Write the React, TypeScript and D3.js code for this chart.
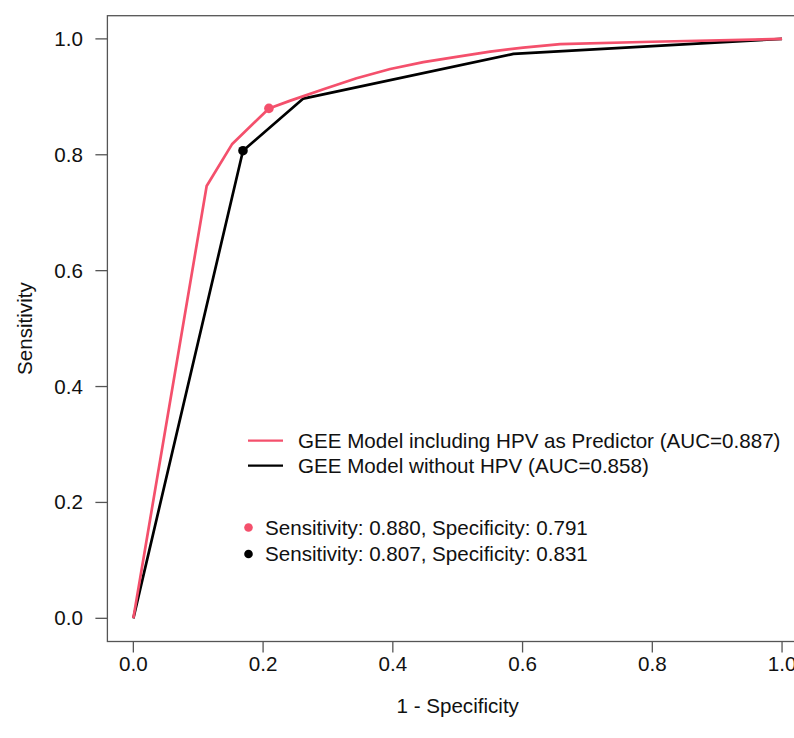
import React from "react";
import * as d3 from "d3";

// ROC points: [1 - specificity, sensitivity]
const withHpv: [number, number][] = [
  [0, 0], [0.113, 0.746], [0.152, 0.818], [0.209, 0.880], [0.241, 0.893],
  [0.293, 0.913], [0.344, 0.932], [0.396, 0.948], [0.447, 0.960], [0.498, 0.969],
  [0.550, 0.978], [0.601, 0.985], [0.658, 0.991], [0.80, 0.995], [1, 1],
];
const withoutHpv: [number, number][] = [
  [0, 0], [0.169, 0.807], [0.262, 0.897], [0.586, 0.974], [1, 1],
];
// best cut-off points
const cutPoints = [
  { sens: 0.880, spec: 0.791 },
  { sens: 0.807, spec: 0.831 },
];
const seriesNames = [
  "GEE Model including HPV as Predictor (AUC=0.887)",
  "GEE Model without HPV (AUC=0.858)",
];
const colors = ["#F4506C", "#000000"];
const ticks = [0, 0.2, 0.4, 0.6, 0.8, 1.0];

const W = 794;
const H = 738;
const FONT = "'Liberation Sans', Arial, sans-serif";
const FS = 20.6;

const App = () => {
  const x = d3.scaleLinear().domain([-0.04, 1.04]).range([107.4, 808]);
  const y = d3.scaleLinear().domain([-0.04, 1.04]).range([641.5, 15.7]);
  const line = d3
    .line<[number, number]>()
    .x(d => x(d[0]))
    .y(d => y(d[1]));
  const fmt = d3.format(".1f");

  return (
    <svg
      width={W}
      height={H}
      style={{ position: "absolute", left: 0, top: 0, background: "#fff" }}
      fontFamily={FONT}
    >
      {/* plot box */}
      <rect
        x={x(-0.04)}
        y={y(1.04)}
        width={x(1.04) - x(-0.04)}
        height={y(-0.04) - y(1.04)}
        fill="none"
        stroke="#555"
        strokeWidth={1.3}
      />

      {/* x axis */}
      {ticks.map(t => (
        <g key={"x" + t}>
          <line x1={x(t)} x2={x(t)} y1={y(-0.04)} y2={y(-0.04) + 11} stroke="#555" strokeWidth={1.3} />
          <text x={x(t)} y={671} textAnchor="middle" fontSize={FS} fill="#111">
            {fmt(t)}
          </text>
        </g>
      ))}
      <text x={(x(-0.04) + x(1.04)) / 2} y={713} textAnchor="middle" fontSize={FS} fill="#111">
        1 - Specificity
      </text>

      {/* y axis */}
      {ticks.map(t => (
        <g key={"y" + t}>
          <line x1={x(-0.04) - 12} x2={x(-0.04)} y1={y(t)} y2={y(t)} stroke="#555" strokeWidth={1.3} />
          <text x={83} y={y(t) + 7} textAnchor="end" fontSize={FS} fill="#111">
            {fmt(t)}
          </text>
        </g>
      ))}
      <text
        transform={`translate(32,${(y(-0.04) + y(1.04)) / 2}) rotate(-90)`}
        textAnchor="middle"
        fontSize={FS}
        fill="#111"
      >
        Sensitivity
      </text>

      {/* curves */}
      <path d={line(withoutHpv) || ""} fill="none" stroke={colors[1]} strokeWidth={2.7} strokeLinejoin="round" />
      <path d={line(withHpv) || ""} fill="none" stroke={colors[0]} strokeWidth={2.7} strokeLinejoin="round" />
      {cutPoints.map((p, i) => (
        <circle key={i} cx={x(1 - p.spec)} cy={y(p.sens)} r={4.8} fill={colors[i]} />
      ))}

      {/* legend: lines */}
      {seriesNames.map((n, i) => (
        <g key={n}>
          <line x1={248} x2={283} y1={440.7 + i * 25} y2={440.7 + i * 25} stroke={colors[i]} strokeWidth={2.2} />
          <text x={298} y={440.7 + i * 25 + 7} fontSize={FS} fill="#111">
            {n}
          </text>
        </g>
      ))}

      {/* legend: points */}
      {cutPoints.map((p, i) => (
        <g key={"p" + i}>
          <circle cx={248.5} cy={527.5 + i * 26.5} r={4.3} fill={colors[i]} />
          <text x={265} y={527.5 + i * 26.5 + 7} fontSize={FS} fill="#111">
            {`Sensitivity: ${p.sens.toFixed(3)}, Specificity: ${p.spec.toFixed(3)}`}
          </text>
        </g>
      ))}
    </svg>
  );
};

export default App;
